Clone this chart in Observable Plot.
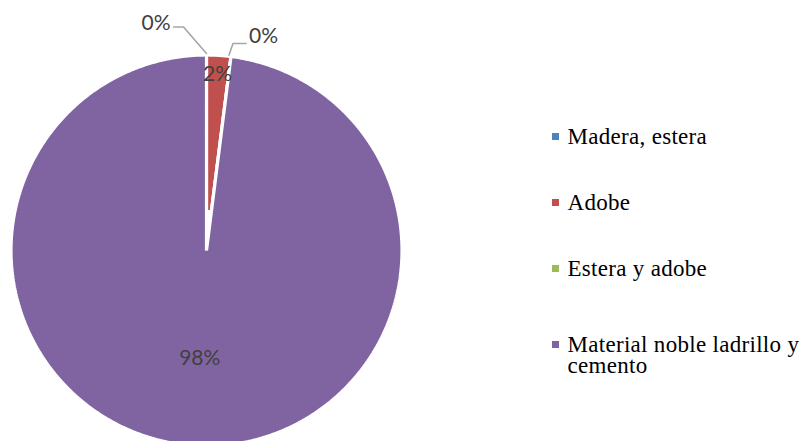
<!DOCTYPE html>
<html>
<head>
<meta charset="utf-8">
<script src="https://cdn.jsdelivr.net/npm/d3@7"></script>
<script src="https://cdn.jsdelivr.net/npm/@observablehq/plot@0.6"></script>
<style>
  html, body { margin: 0; padding: 0; background: #fff; overflow: hidden; }
  #wrap { position: relative; width: 803px; height: 441px; overflow: hidden; }
  #legend { position: absolute; left: 552px; top: 0; width: 251px; }
  .item { position: absolute; left: 0; display: flex; align-items: flex-start; }
  .sw { width: 7px; height: 7px; margin-top: 7.2px; margin-right: 8.5px; flex: none; }
  .lab { width: 240px; font-family: 'Liberation Serif'; font-size: 23px; letter-spacing: 0.3px; line-height: 21.5px; color: #000; }
</style>
</head>
<body>
<div id="wrap"><div id="chart"></div><div id="legend"></div></div>
<script>
const categories = ["Madera, estera", "Adobe", "Estera y adobe", "Material noble ladrillo y cemento"];
const values = [0, 2, 0, 98];
const percentLabels = ["0%", "2%", "0%", "98%"];
const colors = ["#4f81bd", "#c0504d", "#9bbb59", "#8064a2"];

// layout (pixels)
const W = 803, H = 441, CX = 206, CY = 250, R = 195.5;

const arcs = d3.pie().sort(null).value(d => d)(values);

// slice polygons in data units (unit circle), clockwise from 12 o'clock
const pts = [];
arcs.forEach((a, i) => {
  const name = categories[i];
  const small = values[i] > 0 && values[i] < 10;
  const r0 = small ? 0.2 : 0; // thin slice tip hidden behind the white border, as in the reference
  if (r0 > 0) pts.push({name, x: r0 * Math.sin(a.startAngle), y: r0 * Math.cos(a.startAngle)});
  else pts.push({name, x: 0, y: 0});
  const n = Math.max(1, Math.ceil((a.endAngle - a.startAngle) / (Math.PI / 360)));
  for (let k = 0; k <= n; k++) {
    const t = a.startAngle + (a.endAngle - a.startAngle) * k / n;
    pts.push({name, x: Math.sin(t), y: Math.cos(t)});
  }
  if (r0 > 0) pts.push({name, x: r0 * Math.sin(a.endAngle), y: r0 * Math.cos(a.endAngle)});
});

// labels
const inside = [], leaders = [], outside = [];
const leaderStyle = [
  {elbow: [-23, -28], end: [-33, -28], text: [-36, -32], anchor: "end"},
  {elbow: [2, -13], end: [15, -13], text: [18, -20], anchor: "start"}
];
let zi = 0;
arcs.forEach((a, i) => {
  const mid = (a.startAngle + a.endAngle) / 2;
  if (values[i] > 0) {
    const r = values[i] < 10 ? 0.905 : 0.55;
    inside.push({x: r * Math.sin(mid), y: r * Math.cos(mid), label: percentLabels[i]});
  } else {
    const s = leaderStyle[zi++ % 2];
    const ex = Math.sin(a.startAngle), ey = Math.cos(a.startAngle);
    const px = (p) => ex + p[0] / R, py = (p) => ey - p[1] / R;
    leaders.push({g: i, x: ex + (s.elbow[0] >= 0 ? -2 : 0) / R, y: ey + 1.5 / R});
    leaders.push({g: i, x: px(s.elbow), y: py(s.elbow)});
    leaders.push({g: i, x: px(s.end), y: py(s.end)});
    outside.push({x: px(s.text), y: py(s.text), label: percentLabels[i], anchor: s.anchor});
  }
});

const font = "Lato";
const plot = Plot.plot({
  width: W, height: H,
  margin: 0,
  x: {domain: [-1, 1], range: [CX - R, CX + R], axis: null},
  y: {domain: [-1, 1], range: [CY + R, CY - R], axis: null},
  color: {domain: categories, range: colors},
  style: {background: "#fff"},
  marks: [
    Plot.line(pts, {x: "x", y: "y", z: "name", fill: "name", stroke: "#fff", strokeWidth: 3.2, curve: "linear-closed", strokeLinejoin: "miter"}),
    Plot.line(leaders, {x: "x", y: "y", z: "g", stroke: "#a6a6a6", strokeWidth: 1.6}),
    Plot.text(inside, {x: "x", y: "y", text: "label", fill: "#404040", fontSize: 21, fontFamily: font}),
    Plot.text(outside.filter(d => d.anchor === "end"), {x: "x", y: "y", text: "label", textAnchor: "end", fill: "#404040", fontSize: 21, fontFamily: font}),
    Plot.text(outside.filter(d => d.anchor === "start"), {x: "x", y: "y", text: "label", textAnchor: "start", fill: "#404040", fontSize: 21, fontFamily: font})
  ]
});
document.getElementById("chart").appendChild(plot);

// legend
const tops = [125.8, 191.8, 257.8, 333.5];
const legend = document.getElementById("legend");
categories.forEach((c, i) => {
  const it = document.createElement("div");
  it.className = "item";
  it.style.top = tops[i] + "px";
  const sw = document.createElement("span");
  sw.className = "sw";
  sw.style.background = colors[i];
  const lab = document.createElement("span");
  lab.className = "lab";
  lab.textContent = c;
  it.appendChild(sw); it.appendChild(lab);
  legend.appendChild(it);
});
</script>
</body>
</html>
